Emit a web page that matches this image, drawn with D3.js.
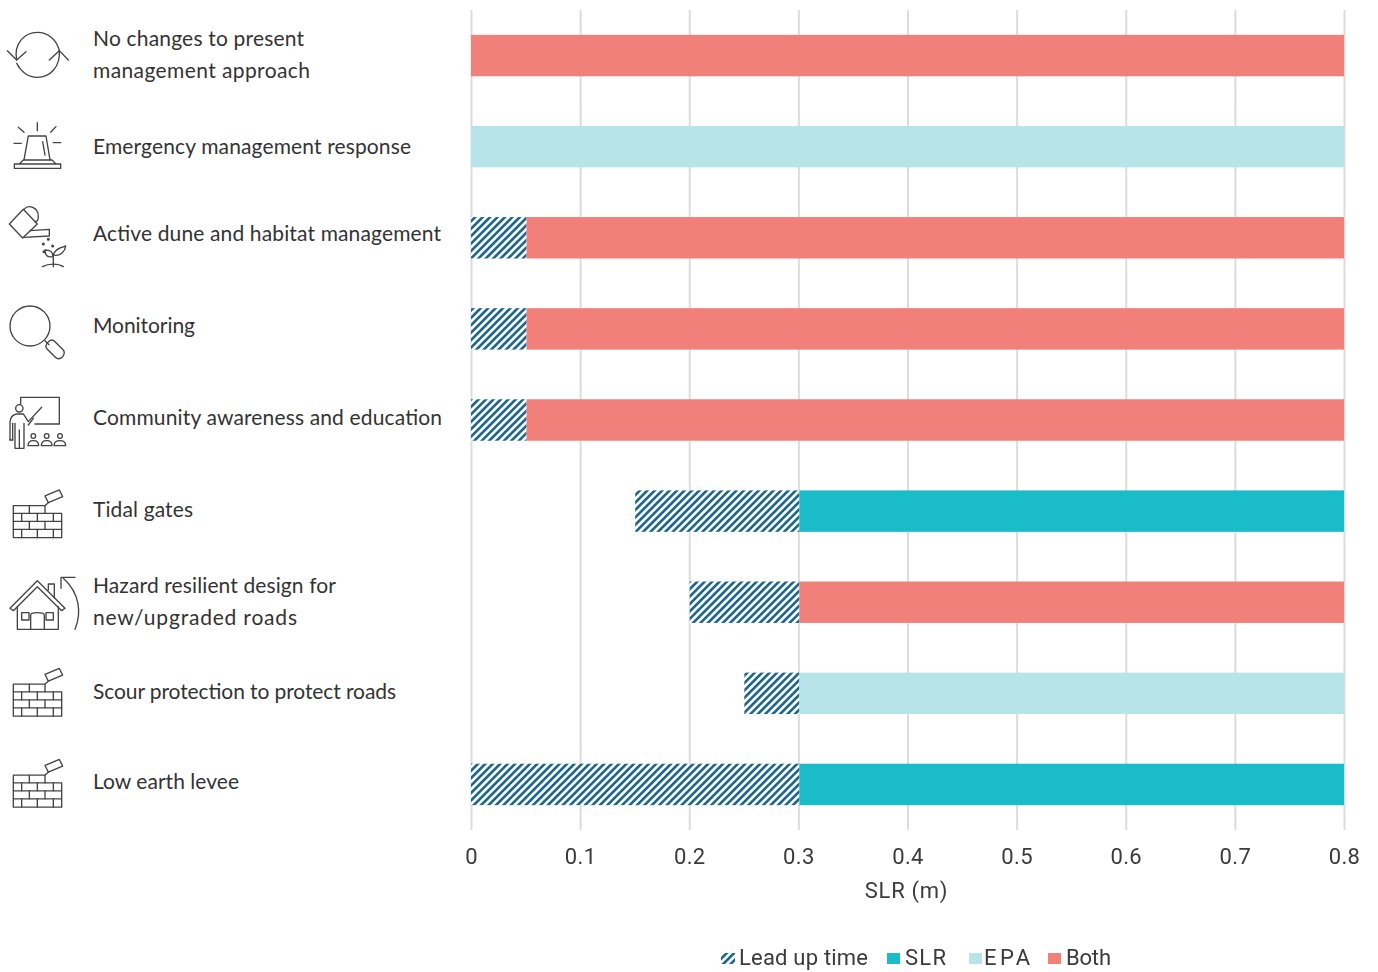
<!DOCTYPE html>
<html><head><meta charset="utf-8">
<script src="https://cdn.jsdelivr.net/npm/d3@7"></script>
<style>html,body{margin:0;background:#fff}svg{display:block}</style></head>
<body><svg id="c" width="1378" height="972"></svg>
<script>
const categories=["No changes to present|management approach","Emergency management response","Active dune and habitat management","Monitoring","Community awareness and education","Tidal gates","Hazard resilient design for|new/upgraded roads","Scour protection to protect roads","Low earth levee"];
const leadStart=[0,0,0,0,0,0.15,0.2,0.25,0];
const actionStart=[0,0,0.05,0.05,0.05,0.3,0.3,0.3,0.3];
const actionEnd=[0.8,0.8,0.8,0.8,0.8,0.8,0.8,0.8,0.8];
const actionType=["Both","EPA","Both","Both","Both","SLR","Both","EPA","SLR"];
const tickValues=[0,0.1,0.2,0.3,0.4,0.5,0.6,0.7,0.8];
const legendLabels=["Lead up time","SLR","EPA","Both"];

const colors={SLR:"#1abcca",EPA:"#b6e4e9",Both:"#f1807b"};
const svg=d3.select("#c");
const defs=svg.append("defs");
const pat=defs.append("pattern").attr("id","hatch").attr("patternUnits","userSpaceOnUse")
 .attr("width",5.25).attr("height",5.25).attr("patternTransform","rotate(45)");
pat.append("rect").attr("width",5.25).attr("height",5.25).attr("fill","#fff");
pat.append("rect").attr("width",2.6).attr("height",5.25).attr("fill","#1a6690");
defs.append("filter").attr("id","soft").append("feGaussianBlur").attr("stdDeviation",0.4);

const x=d3.scaleLinear().domain([0,0.8]).range([471,1344]);
const y=d3.scaleBand().domain(categories).range([10,830]).paddingInner(0.545).paddingOuter(0.2725);
const seam=1; // the coloured part starts just right of its gridline

// axis + grid
const axis=svg.append("g").attr("transform","translate(0,830)")
 .call(d3.axisBottom(x).tickValues(tickValues).tickFormat(d=>d===0?"0":d3.format(".1f")(d)).tickSize(-820).tickPadding(18));
axis.select(".domain").remove();
axis.selectAll(".tick line").attr("stroke","#dcdcdc").attr("stroke-width",2);
const chartFont='Roboto,"Liberation Sans",sans-serif';
axis.selectAll(".tick text").attr("font-family",chartFont).attr("font-size",22).attr("fill","#3a3a3a").attr("letter-spacing",0.4).attr("filter","url(#soft)");

// bars
const idx=categories.map((c,i)=>i);
const off=i=>actionStart[i]>0?seam:0;
svg.append("g").selectAll("rect").data(idx.filter(i=>actionStart[i]>leadStart[i])).join("rect")
 .attr("x",i=>x(leadStart[i])+(leadStart[i]>0?0.5:0)).attr("y",i=>y(categories[i])).attr("height",y.bandwidth())
 .attr("width",i=>x(actionStart[i])-x(leadStart[i])+seam-(leadStart[i]>0?0.5:0)).attr("fill","url(#hatch)");
svg.append("g").selectAll("rect").data(idx).join("rect")
 .attr("x",i=>x(actionStart[i])+off(i)).attr("y",i=>y(categories[i])).attr("height",y.bandwidth())
 .attr("width",i=>x(actionEnd[i])-x(actionStart[i])-off(i)).attr("fill",i=>colors[actionType[i]]);

// axis title
svg.append("text").attr("x",906.5).attr("y",898).attr("text-anchor","middle").attr("font-family",chartFont)
 .attr("font-size",22).attr("fill","#3a3a3a").attr("letter-spacing",0.7).attr("filter","url(#soft)").text("SLR (m)");

// legend
const legendX=[721,887,969,1048];
const legendTextX=[739,905,984,1066];
const legendTextW=[129,41,46,45];
const lg=svg.append("g");
legendLabels.forEach((l,i)=>{
  lg.append("rect").attr("x",legendX[i]).attr("y",953).attr("width",i?13:14).attr("height",11)
    .attr("fill",i?colors[l]:"url(#hatch)");
  lg.append("text").attr("x",legendTextX[i]).attr("y",965).attr("font-family",chartFont).attr("font-size",22)
    .attr("textLength",legendTextW[i]).attr("lengthAdjust","spacing")
    .attr("fill","#3a3a3a").attr("filter","url(#soft)").text(l);
});

// category labels
const labelNudge=[-1,0,-4.5,-3,-2.5,-1,-1,-2,-2.5];
const labelWidths=[[211,217],[318],[348],[102],[349],[100],[243,204],[303],[146]];
const lab=svg.append("g").attr("font-family",'Lato,sans-serif').attr("font-size",21).attr("fill","#333");
categories.forEach((c,i)=>{
  const lines=c.split("|");
  const cy=y(c)+y.bandwidth()/2+labelNudge[i];
  lines.forEach((t,j)=>{
    lab.append("text").attr("x",93).attr("y",cy+(j-(lines.length-1)/2)*32).attr("dy","0.35em")
      .attr("textLength",labelWidths[i][j]).attr("lengthAdjust","spacing").text(t);
  });
});

// icons: outlines in a 3x local grid
const ic=svg.append("g").attr("fill","none").attr("stroke","#444").attr("stroke-width",4)
  .attr("stroke-linejoin","round").attr("stroke-linecap","round");
function icon(tx,ty,paths,extra){
  const g=ic.append("g").attr("transform",`translate(${tx},${ty}) scale(0.3333)`);
  paths.forEach(d=>g.append("path").attr("d",d));
  if(extra)extra(g);
  return g;
}
icon(0,0,["M50 180C40 130 75 97 112 97C145 97 170 120 178 152","M22 152L50 180L78 155","M178 152C182 200 150 232 112 232C85 232 62 215 50 190","M148 180L178 152L205 180"]);
icon(0,0,["M43 505V492H182V505ZM58 492L70 480H156L168 492","M72 480L85 408H138L150 480","M128 425L135 465","M112 368V392","M55 382L72 397","M168 380L152 397","M42 430H64","M160 428H182"]);
icon(0,0,["M28 672L70 628L112 672L68 714Z","M72 628C85 612 115 622 115 650C115 660 110 665 105 665","M90 692L148 688V708L70 712","M160 800V760","M158 770C135 775 135 755 135 750C150 750 160 755 158 770","M160 765C165 745 185 742 197 738C195 755 180 770 160 765","M128 800C145 790 175 790 190 800"],g=>{
  [[145,718],[130,732],[158,738],[132,755]].forEach(p=>g.append("circle").attr("cx",p[0]).attr("cy",p[1]).attr("r",2.5).attr("fill","#444"));
});
icon(0,280,["M135 182L147 194","M147 184C153 178 160 180 165 185L188 208C194 214 194 222 188 230C182 238 172 238 166 232L142 208C136 202 135 194 147 184Z"],g=>{
  g.append("circle").attr("cx",90).attr("cy",138).attr("r",60);
});
icon(0,280,["M62 372V352H178V432H105","M30 480V425Q32 405 50 402H70L85 425L125 382","M85 435L100 415","M38 480V430","M30 480H38","M45 505V430M72 505V430M58 505V450M45 505H72","M84 497Q84 482 100 482Q116 482 116 497ZM124 497Q124 482 140 482Q156 482 156 497ZM162 497Q162 482 180 482Q197 482 197 497Z"],g=>{
  g.append("circle").attr("cx",58).attr("cy",385).attr("r",11);
  [[100,468],[140,468],[180,468]].forEach(p=>g.append("circle").attr("cx",p[0]).attr("cy",p[1]).attr("r",7));
});
const brick=["M40 677H135V700H185V773H40Z","M40 700H135","M40 724H185","M40 748H185","M88 677V700","M65 700V724M112 700V724M160 700V724","M88 724V748M135 724V748","M65 748V773M112 748V773M160 748V773","M135 648L178 630L188 650L145 668Z","M136 676L145 668"];
icon(0,280,brick);
icon(0,458.5,brick);
icon(0,549.5,brick);
icon(0,560,["M30 145L112 62L195 145L185 152L112 80L40 152Z","M145 90V72H163V115","M52 140V208H175V140","M92 208V165Q92 158 112 158Q133 158 133 165V208","M65 158H87V180H65ZM138 158H160V180H138Z","M225 208C245 160 240 100 190 55","M183 85V52H225"]);
</script></body></html>
